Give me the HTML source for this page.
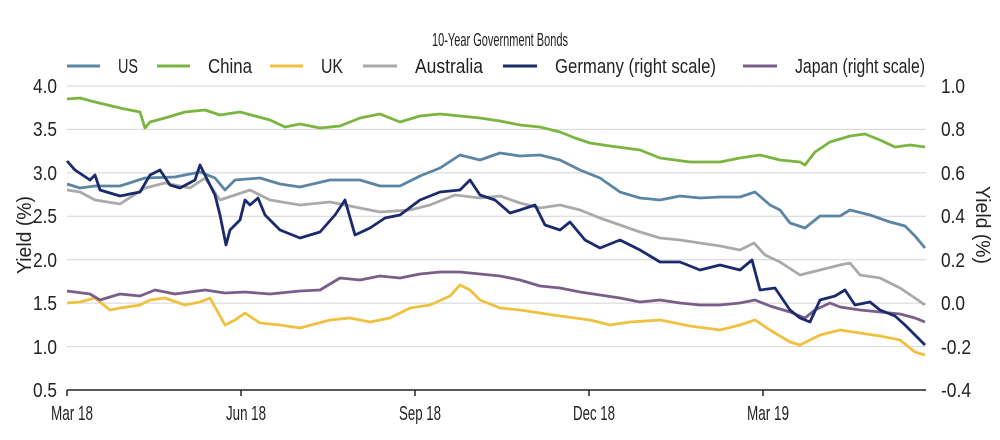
<!DOCTYPE html>
<html><head><meta charset="utf-8"><style>body{margin:0;background:#fff}svg{display:block;font-family:"Liberation Sans",sans-serif}</style></head><body>
<svg width="1000" height="440" viewBox="0 0 1000 440">
<text x="500" y="46" font-size="18" text-anchor="middle" textLength="136" lengthAdjust="spacingAndGlyphs" fill="#222">10-Year Government Bonds</text>
<g stroke-width="3">
<line x1="67" y1="66" x2="100" y2="66" stroke="#5b86a3"/>
<line x1="157" y1="66" x2="190" y2="66" stroke="#7ab540"/>
<line x1="270" y1="66" x2="303" y2="66" stroke="#f0c040"/>
<line x1="363" y1="66" x2="397" y2="66" stroke="#aaaaaa"/>
<line x1="503" y1="66" x2="537" y2="66" stroke="#1a2a6c"/>
<line x1="743" y1="66" x2="777" y2="66" stroke="#7a5e8a"/>
</g>
<g font-size="20" fill="#222">
<text x="118" y="73" textLength="20" lengthAdjust="spacingAndGlyphs">US</text>
<text x="208" y="73" textLength="44" lengthAdjust="spacingAndGlyphs">China</text>
<text x="321" y="73" textLength="22" lengthAdjust="spacingAndGlyphs">UK</text>
<text x="415" y="73" textLength="68" lengthAdjust="spacingAndGlyphs">Australia</text>
<text x="555" y="73" textLength="161" lengthAdjust="spacingAndGlyphs">Germany (right scale)</text>
<text x="795" y="73" textLength="130" lengthAdjust="spacingAndGlyphs">Japan (right scale)</text>
</g>
<g stroke="#d4d4d4" stroke-width="1">
<line x1="67" y1="86" x2="926" y2="86"/><line x1="67" y1="129.4" x2="926" y2="129.4"/><line x1="67" y1="172.9" x2="926" y2="172.9"/><line x1="67" y1="216.3" x2="926" y2="216.3"/><line x1="67" y1="259.7" x2="926" y2="259.7"/><line x1="67" y1="303.1" x2="926" y2="303.1"/><line x1="67" y1="346.6" x2="926" y2="346.6"/>
</g>
<line x1="67" y1="390" x2="926" y2="390" stroke="#222" stroke-width="1.5"/>
<g stroke="#222" stroke-width="1.5"><line x1="67" y1="390" x2="67" y2="396"/><line x1="241" y1="390" x2="241" y2="396"/><line x1="415" y1="390" x2="415" y2="396"/><line x1="589" y1="390" x2="589" y2="396"/><line x1="763" y1="390" x2="763" y2="396"/></g>
<g font-size="20" fill="#222" text-anchor="end">
<text x="57" y="93" textLength="24" lengthAdjust="spacingAndGlyphs">4.0</text><text x="57" y="136" textLength="24" lengthAdjust="spacingAndGlyphs">3.5</text><text x="57" y="180" textLength="24" lengthAdjust="spacingAndGlyphs">3.0</text><text x="57" y="223" textLength="24" lengthAdjust="spacingAndGlyphs">2.5</text><text x="57" y="267" textLength="24" lengthAdjust="spacingAndGlyphs">2.0</text><text x="57" y="310" textLength="24" lengthAdjust="spacingAndGlyphs">1.5</text><text x="57" y="354" textLength="24" lengthAdjust="spacingAndGlyphs">1.0</text><text x="57" y="397" textLength="24" lengthAdjust="spacingAndGlyphs">0.5</text>
</g>
<g font-size="20" fill="#222">
<text x="941" y="93" textLength="24" lengthAdjust="spacingAndGlyphs">1.0</text><text x="941" y="136" textLength="24" lengthAdjust="spacingAndGlyphs">0.8</text><text x="941" y="180" textLength="24" lengthAdjust="spacingAndGlyphs">0.6</text><text x="941" y="223" textLength="24" lengthAdjust="spacingAndGlyphs">0.4</text><text x="941" y="267" textLength="24" lengthAdjust="spacingAndGlyphs">0.2</text><text x="941" y="310" textLength="24" lengthAdjust="spacingAndGlyphs">0.0</text><text x="941" y="354" textLength="30" lengthAdjust="spacingAndGlyphs">-0.2</text><text x="941" y="397" textLength="30" lengthAdjust="spacingAndGlyphs">-0.4</text>
</g>
<g font-size="20" fill="#222" text-anchor="middle">
<text x="72" y="420" textLength="42" lengthAdjust="spacingAndGlyphs">Mar 18</text><text x="246" y="420" textLength="40" lengthAdjust="spacingAndGlyphs">Jun 18</text><text x="420" y="420" textLength="42" lengthAdjust="spacingAndGlyphs">Sep 18</text><text x="594" y="420" textLength="42" lengthAdjust="spacingAndGlyphs">Dec 18</text><text x="768" y="420" textLength="42" lengthAdjust="spacingAndGlyphs">Mar 19</text>
</g>
<text transform="translate(31,235) rotate(-90)" font-size="20" fill="#222" text-anchor="middle" textLength="78" lengthAdjust="spacingAndGlyphs">Yield (%)</text>
<text transform="translate(976,225) rotate(90)" font-size="20" fill="#222" text-anchor="middle" textLength="78" lengthAdjust="spacingAndGlyphs">Yield (%)</text>
<g fill="none" stroke-width="2.8" stroke-linejoin="round">
<polyline stroke="#7ab540" points="67,99 80,98 95,102 120,108 140,112 145,128 150,122 165,118 185,112 205,110 220,115 240,112 255,116 270,120 285,127 300,124 320,128 340,126 360,118 380,114 400,122 420,116 440,114 460,116 480,118 500,121 520,125 540,127 560,132 575,138 590,143 610,146 640,150 660,158 690,162 720,162 740,158 760,155 780,160 800,162 805,165 815,152 830,142 850,136 865,134 880,140 895,147 910,145 925,147"/>
<polyline stroke="#5b86a3" points="67,184 80,188 95,186 120,186 145,178 175,177 200,172 215,178 225,190 235,180 260,178 280,184 300,187 330,180 360,180 380,186 400,186 420,176 440,168 460,155 480,160 500,153 520,156 540,155 560,160 580,170 600,178 620,192 640,198 660,200 680,196 700,198 720,197 740,197 755,192 770,205 780,210 790,223 805,228 820,216 840,216 850,210 870,215 890,222 905,226 915,236 925,248"/>
<polyline stroke="#aaaaaa" points="67,190 80,192 95,200 120,204 145,188 165,183 190,188 205,178 220,200 235,195 250,190 270,200 300,205 330,202 360,208 380,212 410,210 430,205 455,195 480,198 500,196 520,203 540,208 560,205 580,210 600,218 620,225 640,232 660,238 680,240 700,243 720,246 740,250 754,243 765,255 780,262 800,275 820,270 840,265 850,263 860,275 880,278 900,288 915,298 925,305"/>
<polyline stroke="#f0c040" points="67,303 80,302 95,298 110,310 120,308 140,305 150,300 165,298 185,305 200,302 210,298 225,325 235,320 245,313 260,323 280,325 300,328 330,320 350,318 370,322 390,318 410,308 430,305 450,296 460,285 470,290 480,300 500,308 520,310 540,313 560,316 590,320 610,325 630,322 660,320 690,326 720,330 740,325 755,320 770,330 790,342 800,345 820,335 840,330 860,333 880,336 900,340 915,352 925,355"/>
<polyline stroke="#7a5e8a" points="67,291 90,294 100,300 120,294 140,296 155,290 175,294 205,290 225,293 245,292 270,294 300,291 320,290 340,278 360,280 380,276 400,278 420,274 440,272 460,272 480,274 500,276 520,280 540,286 560,288 580,292 600,295 620,298 640,302 660,300 680,303 700,305 720,305 740,303 755,300 770,306 790,312 805,318 815,310 830,303 840,307 860,310 880,312 900,314 915,318 925,322"/>
<polyline stroke="#1a2a6c" points="67,161 75,170 90,180 95,175 100,190 120,196 140,192 150,175 160,170 170,185 180,188 195,180 200,165 205,175 215,195 220,215 226,245 230,230 240,220 245,200 250,205 258,198 265,215 280,230 300,238 320,232 335,215 345,200 355,235 370,228 385,218 400,215 420,200 440,192 460,190 470,180 480,195 495,200 510,213 520,210 535,205 545,225 560,230 570,222 585,240 600,248 620,240 640,250 660,262 680,262 700,270 720,265 740,270 752,260 760,290 775,288 790,310 800,318 810,322 820,300 835,296 845,290 855,305 870,302 880,310 895,316 905,325 915,335 925,345"/>
</g>
</svg>
</body></html>
